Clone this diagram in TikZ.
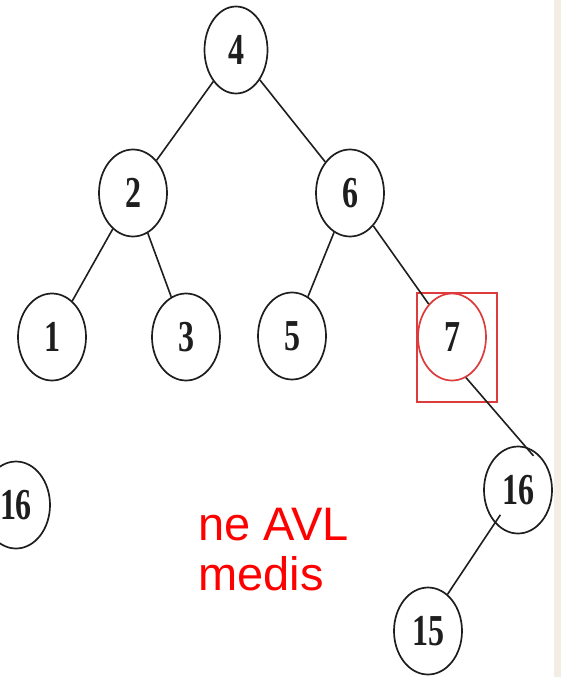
\documentclass[tikz,border=0pt]{standalone}
\usepackage{fontspec}
\usepackage{graphicx}
\setmainfont{Liberation Serif}
\newfontfamily\arialfont{Liberation Sans}
\usetikzlibrary{shapes.geometric}
\definecolor{boxred}{RGB}{222,60,60}
\definecolor{strip}{RGB}{243,238,228}
\definecolor{ink}{RGB}{30,30,30}
\newcommand{\dg}[1]{\scalebox{1}[1.38]{\fontsize{32}{32}\selectfont\bfseries #1}}
\tikzset{
  tnode/.style={ellipse, draw=ink, line width=1.7pt, minimum width=68pt, minimum height=87pt, inner sep=0pt, text=ink},
  hinode/.style={tnode, draw=boxred},
  edge/.style={draw=ink, line width=1.6pt},
  redbox/.style={rectangle, draw=boxred, line width=1.3pt, inner sep=0pt},
  note/.style={text=red, font=\arialfont\fontsize{47}{50}\selectfont, align=left, inner sep=0pt}
}
\begin{document}
\begin{tikzpicture}[x=1pt, y=-1pt]
\clip (0,0) rectangle (561,677);
\useasboundingbox (0,0) rectangle (561,677);
\fill[white] (0,0) rectangle (554,677);
\fill[strip] (554,0) rectangle (561,677);

\node[tnode, minimum width=63pt] (n4) at (236,50) {\dg{4}};
\node[tnode] (n2) at (133,193) {\dg{2}};
\node[tnode] (n6) at (350,193) {\dg{6}};
\node[tnode] (n1) at (52,337) {\dg{1}};
\node[tnode] (n3) at (186,337) {\dg{3}};
\node[tnode] (n5) at (292,336) {\dg{5}};
\node[hinode] (n7) at (452,337) {\dg{7}};
\node[tnode] (n16r) at (518,490) {\dg{16}};
\node[tnode] (n15) at (428,631) {\dg{15}};
\node[tnode] (n16l) at (16,505) {\dg{16}};

\node[redbox, minimum width=80pt, minimum height=109pt] (hl) at (457,347.5) {};

\draw[edge] (n4) -- (n2);
\draw[edge] (n4) -- (n6);
\draw[edge] (n2) -- (n1);
\draw[edge] (n2) -- (n3);
\draw[edge] (n6) -- (n5);
\draw[edge] (n6) -- (n7);
\draw[edge, shorten >=-12pt] (n7.-71) -- (n16r.80);
\draw[edge, shorten <=-10pt] (n16r.-125) -- (n15.62);

\node[note, anchor=north west] (txt) at (198,508) {ne AVL\\medis};
\end{tikzpicture}
\end{document}
